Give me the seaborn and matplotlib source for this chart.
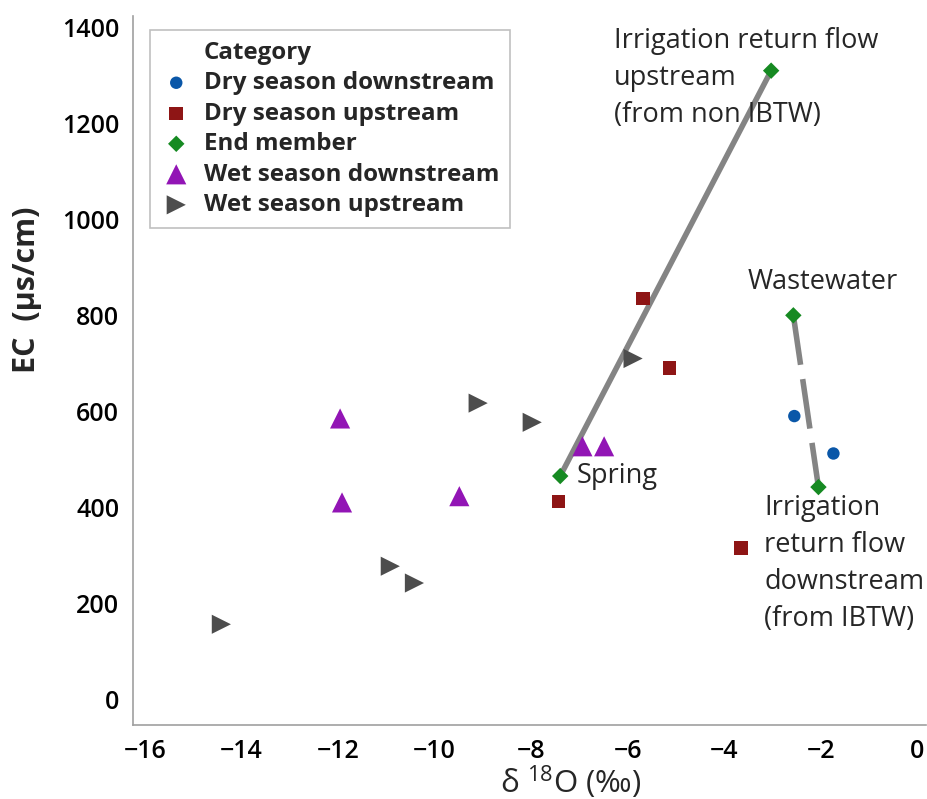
import matplotlib
matplotlib.use("Agg")
import matplotlib.pyplot as plt
from matplotlib.lines import Line2D
import seaborn as sns
import pandas as pd

sns.set_theme(style="white")
plt.rcParams["font.family"] = ["Open Sans", "DejaVu Sans"]
plt.rcParams["mathtext.fontset"] = "custom"
plt.rcParams["mathtext.rm"] = "Open Sans"
plt.rcParams["mathtext.it"] = "Open Sans"
plt.rcParams["mathtext.bf"] = "Open Sans:bold"

# Sample groups: delta 18O (permil) and EC (us/cm)
dry_down_x = [-2.55, -1.74]
dry_down_y = [590, 512]
dry_up_x = [-5.68, -5.14, -7.44, -3.65]
dry_up_y = [835, 690, 412, 315]
end_x = [-3.03, -2.57, -7.40, -2.05]
end_y = [1310, 800, 465, 442]
wet_down_x = [-11.96, -11.92, -9.49, -6.94, -6.49]
wet_down_y = [585, 410, 423, 527, 527]
wet_up_x = [-14.42, -10.92, -10.42, -9.10, -7.98, -5.89]
wet_up_y = [156, 277, 242, 617, 577, 710]

categories = ["Dry season downstream", "Dry season upstream", "End member",
              "Wet season downstream", "Wet season upstream"]
colors = ["#0A57A8", "#8E1515", "#168A22", "#9215B5", "#4D4D4D"]
markers = ["o", "s", "D", "^", ">"]
sizes = [80, 95, 70, 210, 190]

groups = [(dry_down_x, dry_down_y), (dry_up_x, dry_up_y), (end_x, end_y),
          (wet_down_x, wet_down_y), (wet_up_x, wet_up_y)]
df = pd.concat([pd.DataFrame({"d18O": gx, "EC": gy, "Category": c})
                for (gx, gy), c in zip(groups, categories)], ignore_index=True)

fig = plt.figure(figsize=(9.27, 7.99), dpi=100)
ax = fig.add_axes([0.1435, 0.0926, 0.855, 0.888])

# Mixing lines between end members
ax.plot([end_x[2], end_x[0]], [end_y[2], end_y[0]], color="#848484", lw=4,
        solid_capstyle="butt", zorder=3)
ax.plot([end_x[1], end_x[3]], [end_y[1], end_y[3]], color="#848484", lw=4,
        dashes=(9, 2.6), zorder=3)

for c, col, m, s in zip(categories, colors, markers, sizes):
    sub = df[df["Category"] == c]
    sns.scatterplot(data=sub, x="d18O", y="EC", color=col, marker=m, s=s,
                    edgecolor="none", linewidth=0, ax=ax, zorder=4, label=c)

ax.set_xlim(-16.25, 0.17)
ax.set_ylim(-54, 1425)
ax.set_xticks(range(-16, 1, 2))
ax.set_yticks(range(0, 1401, 200))

for side in ["top", "right"]:
    ax.spines[side].set_visible(False)
for side in ["left", "bottom"]:
    ax.spines[side].set_color("#A0A0A0")
    ax.spines[side].set_linewidth(1.2)
ax.tick_params(axis="both", which="major", direction="out", length=7,
               width=1, color="#A0A0A0", labelsize=18, labelcolor="black")
ax.tick_params(axis="x", pad=3)
ax.tick_params(axis="y", pad=3)
for lab in ax.get_xticklabels() + ax.get_yticklabels():
    lab.set_fontweight("semibold")

ax.set_xlabel(r"δ $^{18}$O (‰)", fontsize=22.5)
ax.xaxis.label.set_va("center")
ax.xaxis.set_label_coords(0.552, -0.080)
ax.set_ylabel("EC  (μs/cm)", fontsize=22, fontweight="bold")
ax.yaxis.label.set_va("center")
ax.yaxis.set_label_coords(-0.134, 0.614)

# Legend with the heading set as an unmarked first row
handles, labels = ax.get_legend_handles_labels()
head = Line2D([], [], linestyle="none", marker=None)
leg = ax.legend([head] + handles, ["Category"] + labels, loc="upper left",
                bbox_to_anchor=(0.021, 0.98), frameon=True, fancybox=False,
                edgecolor="#B0B0B0", handletextpad=0.5,
                labelspacing=0.27, borderpad=0.45, handlelength=1.3,
                borderaxespad=0.0,
                prop={"weight": "bold", "size": 17.4})
leg.get_frame().set_linewidth(1.2)

# End member annotations
ax.text(-6.28, 1402, "Irrigation return flow\nupstream\n(from non IBTW)",
        fontsize=19.5, va="top", ha="left", linespacing=1.43)
ax.text(-3.52, 870, "Wastewater", fontsize=19.5, va="center", ha="left")
ax.text(-7.07, 465, "Spring", fontsize=19.5, va="center", ha="left")
ax.text(-3.17, 428, "Irrigation\nreturn flow\ndownstream\n(from IBTW)",
        fontsize=19.5, va="top", ha="left", linespacing=1.43)

fig.savefig("out.png", dpi=100)
